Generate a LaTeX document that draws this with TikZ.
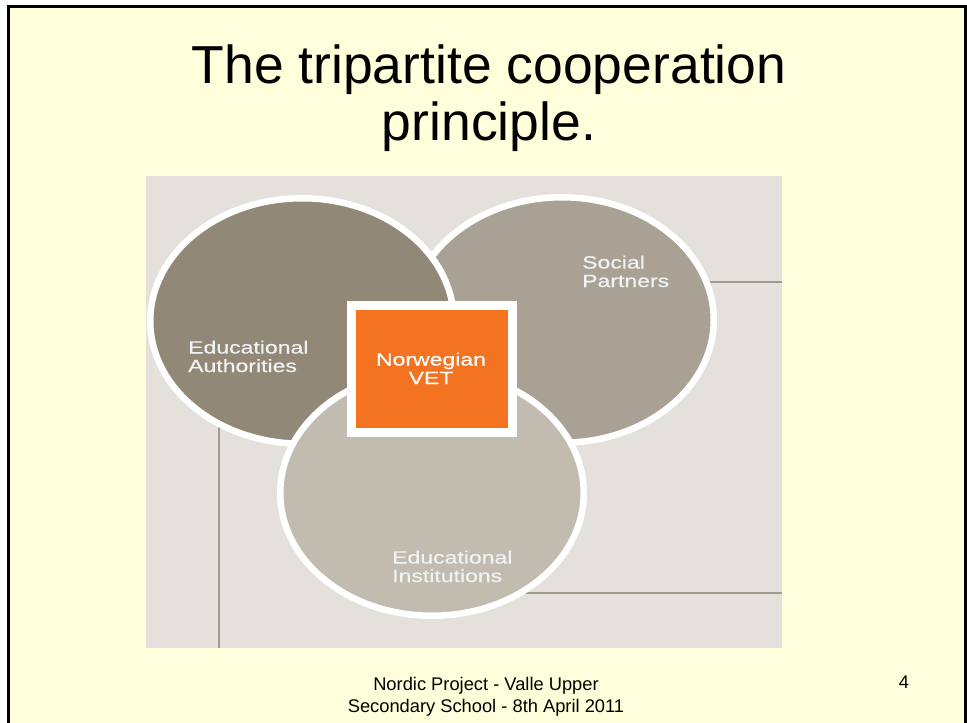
\documentclass[tikz,border=0pt]{standalone}
\usepackage{fontspec}
\setmainfont{Liberation Sans}
\newfontfamily\diafont[FakeStretch=1.3,FakeBold=0.6]{Liberation Sans}
\usetikzlibrary{shapes.geometric}

\definecolor{slidebg}{HTML}{FFFFDB}
\definecolor{panelgray}{HTML}{E4E1DC}
\definecolor{authgray}{HTML}{918878}
\definecolor{partgray}{HTML}{A9A294}
\definecolor{instgray}{HTML}{C1BBB0}
\definecolor{vetorange}{HTML}{F37321}
\definecolor{tickgray}{HTML}{A39A8E}
\definecolor{lbltext}{HTML}{F1F2F4}

\begin{document}
\begin{tikzpicture}[x=1pt, y=-1pt,
  circ/.style={ellipse, draw=white, line width=6.5pt, minimum width=303.5pt, minimum height=245.5pt, inner sep=0pt},
  lbl/.style={font=\diafont\fontsize{17.7}{18.5}\selectfont, text=lbltext, align=left, inner sep=0pt},
  foot/.style={font=\fontsize{18.3}{22}\selectfont, inner sep=0pt}]

% Slide
\useasboundingbox (0,0) rectangle (967,723);
\fill[white] (0,0) rectangle (967,723);
\draw[line width=3pt, fill=slidebg] (8,6) rectangle (965,740);

% Title
\node[anchor=base, inner sep=0pt, font=\fontsize{53.5}{57}\selectfont] (title1) at (489,83) {The tripartite cooperation};
\node[anchor=base, inner sep=0pt, font=\fontsize{53.5}{57}\selectfont] (title2) at (489,140) {principle.};

% Picture panel
\fill[panelgray] (146,176) rectangle (782,648);

% Circle centres
\coordinate (EA) at (302,321);
\coordinate (SP) at (562,320);
\coordinate (EI) at (432,493);

% Thin lines behind the circles
\coordinate (sp-line) at (782,282);
\coordinate (ei-line) at (782,593);
\coordinate (ea-line) at (219,648);
\draw[tickgray, line width=1.5pt] (sp-line) -- (sp-line -| SP);
\draw[tickgray, line width=1.5pt] (ei-line) -- (ei-line -| EI);
\draw[tickgray, line width=1.5pt] (ea-line) -- (ea-line |- EA);

% Circles
\node[circ, fill=partgray] (sp) at (SP) {};
\node[circ, fill=authgray] (ea) at (EA) {};
\node[circ, fill=instgray] (ei) at (EI) {};

% Centre square
\node[draw=white, line width=9pt, fill=vetorange, minimum width=161pt, minimum height=127pt, inner sep=0pt] (vet) at (432,369) {};

% Labels (base = last line)
\node[lbl, anchor=base west] (ea-text) at (188,372) {Educational\\Authorities};
\node[lbl, anchor=base west] (sp-text) at (582,287) {Social\\Partners};
\node[lbl, anchor=base west] (ei-text) at (392,582) {Educational\\Institutions};
\node[lbl, align=center, anchor=base, text=white] (vet-text) at (431,384) {Norwegian\\VET};

% Footer
\node[foot, anchor=base, align=center] (footer) at (486,712) {Nordic Project - Valle Upper\\Secondary School - 8th April 2011};
\node[foot, anchor=base] (pagenum) at (904,688) {4};

\end{tikzpicture}
\end{document}
